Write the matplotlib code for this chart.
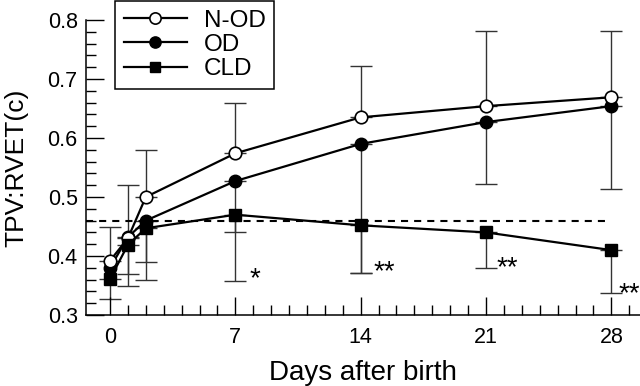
import numpy as np
import matplotlib
matplotlib.use("Agg")
import matplotlib.pyplot as plt
from matplotlib.ticker import FixedLocator, MultipleLocator

plt.rcParams["font.family"] = ["Liberation Sans", "DejaVu Sans"]

# days after birth
days = [0, 1, 2, 7, 14, 21, 28]

# group means
nod = [0.392, 0.43, 0.50, 0.574, 0.635, 0.654, 0.669]
od = [0.380, 0.432, 0.460, 0.527, 0.590, 0.627, 0.654]
cld = [0.361, 0.419, 0.447, 0.470, 0.452, 0.440, 0.410]

# ends of the one-sided error bars (nan = no bar)
nod_upper = [0.45, 0.52, 0.58, 0.66, 0.722, 0.781, 0.781]
od_lower = [np.nan, 0.369, 0.39, 0.44, 0.371, 0.522, 0.513]
cld_lower = [0.327, 0.349, 0.359, 0.358, 0.371, 0.38, 0.337]

ref_level = 0.46

# significance marks
sig_x = [7.8, 14.7, 21.6, 28.4]
sig_y = [0.36, 0.373, 0.38, 0.336]
sig_txt = ["*", "**", "**", "**"]


def one_sided(ax, x, y, end, upper):
    x = np.asarray(x, float)
    y = np.asarray(y, float)
    end = np.asarray(end, float)
    ok = ~np.isnan(end)
    d = np.abs(end[ok] - y[ok])
    zero = np.zeros_like(d)
    yerr = [zero, d] if upper else [d, zero]
    ax.errorbar(x[ok], y[ok], yerr=yerr, fmt="none", ecolor="#333333",
                elinewidth=1.0, capsize=8, capthick=1.0, zorder=1)


fig = plt.figure(figsize=(6.4, 3.86), dpi=100)
ax = fig.add_axes([86 / 640, 1 - 315 / 386, 554 / 640, 295 / 386])

ax.plot([-1.34, 28], [ref_level, ref_level], color="black", lw=1.5,
        dashes=(3.4, 2.9), zorder=2)

one_sided(ax, days, nod, nod_upper, True)
one_sided(ax, days, od, od_lower, False)
one_sided(ax, days, cld, cld_lower, False)

ax.plot(days, od, "-o", color="black", lw=1.6, ms=9, mfc="black",
        mec="black", label="OD", zorder=3)
ax.plot(days, nod, "-o", color="black", lw=1.6, ms=9, mfc="white",
        mec="black", mew=1.2, label="N-OD", zorder=4)
ax.plot(days, cld, "-s", color="black", lw=1.6, ms=8, mfc="black",
        mec="black", label="CLD", zorder=5)

for x, y, t in zip(sig_x, sig_y, sig_txt):
    ax.text(x, y, t, fontsize=20, ha="left", va="center")

ax.set_xlim(-1.34, 29.6)
ax.set_ylim(0.3, 0.8)
ax.set_xticks([0, 7, 14, 21, 28])
ax.xaxis.set_minor_locator(FixedLocator(range(0, 30)))
ax.set_yticks([0.3, 0.4, 0.5, 0.6, 0.7, 0.8])
ax.set_yticklabels(["0.3", "0.4", "0.5", "0.6", "0.7", "0.8"])
ax.yaxis.set_minor_locator(MultipleLocator(0.02))
ax.tick_params(which="major", direction="in", length=13, width=1,
               labelsize=15.5)
ax.tick_params(axis="x", which="major", pad=8.5)
ax.tick_params(axis="y", which="major", pad=6)
ax.tick_params(which="minor", direction="in", length=7, width=1)
ax.spines["top"].set_visible(False)
ax.spines["right"].set_visible(False)
for s in ("left", "bottom"):
    ax.spines[s].set_linewidth(1.1)

ax.set_xlabel("Days after birth", fontsize=20, labelpad=9)
ax.set_ylabel("TPV:RVET(c)", fontsize=19, labelpad=14)

handles, labels = ax.get_legend_handles_labels()
order = [labels.index(n) for n in ("N-OD", "OD", "CLD")]
leg = ax.legend([handles[i] for i in order], [labels[i] for i in order],
                loc="upper left", bbox_to_anchor=(115 / 640, 1 - 1 / 386),
                bbox_transform=fig.transFigure, borderaxespad=0,
                fontsize=17.5, handlelength=2.6, handletextpad=0.7,
                labelspacing=0.1, borderpad=0.35, fancybox=False,
                framealpha=1, edgecolor="black", markerscale=0.9)
leg.get_frame().set_linewidth(1.1)

fig.savefig("out.png", dpi=100)
